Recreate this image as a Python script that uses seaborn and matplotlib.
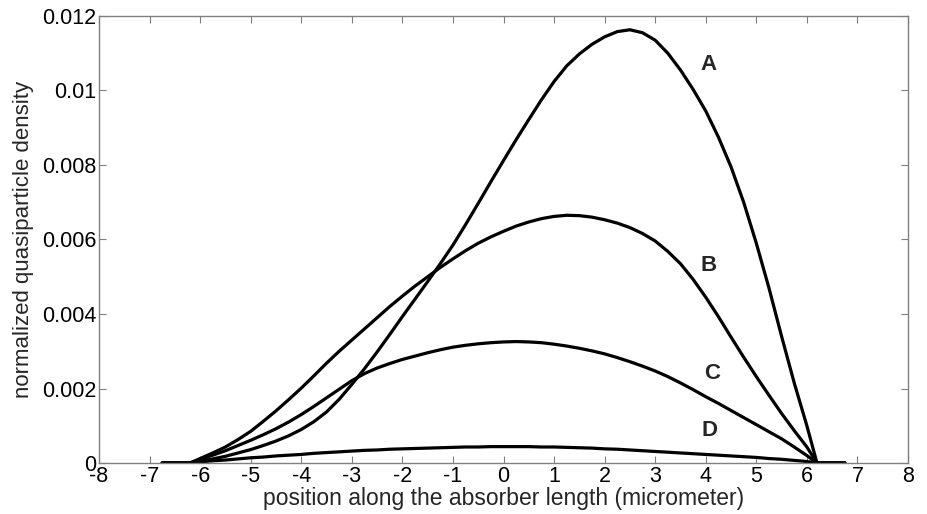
import numpy as np
import pandas as pd
import matplotlib
matplotlib.use("Agg")
import matplotlib.pyplot as plt
import seaborn as sns

# positions along absorber (micrometer)
x_pos = [-6.75, -6.2, -6.0, -5.75, -5.5, -5.25, -5.0, -4.75, -4.5, -4.25, -4.0,
         -3.75, -3.5, -3.25, -3.0, -2.75, -2.5, -2.25, -2.0, -1.75, -1.5, -1.25,
         -1.0, -0.75, -0.5, -0.25, 0.0, 0.25, 0.5, 0.75, 1.0, 1.25, 1.5, 1.75,
         2.0, 2.25, 2.5, 2.75, 3.0, 3.25, 3.5, 3.75, 4.0, 4.25, 4.5, 4.75, 5.0,
         5.25, 5.5, 5.75, 6.0, 6.2, 6.75]

curve_A = [0, 0, 0.00005, 0.00011, 0.00018, 0.00027, 0.00036, 0.00047, 0.00059, 0.00073,
           0.00090, 0.00111, 0.00137, 0.00171, 0.00211, 0.00253, 0.00298, 0.00345,
           0.00393, 0.00440, 0.00487, 0.00535, 0.00585, 0.00640, 0.00697, 0.00755,
           0.00812, 0.00868, 0.00922, 0.00975, 0.01024, 0.01066, 0.01098, 0.01124,
           0.01144, 0.01158, 0.01163, 0.01155, 0.01135, 0.01100, 0.01055, 0.01003,
           0.00945, 0.00875, 0.00795, 0.00700, 0.00590, 0.00470, 0.00340, 0.00215,
           0.00100, 0, 0]
curve_B = [0, 0, 0.00012, 0.00027, 0.00043, 0.00063, 0.00085, 0.00112, 0.00140, 0.00170,
           0.00201, 0.00234, 0.00268, 0.00300, 0.00330, 0.00360, 0.00390, 0.00420,
           0.00448, 0.00475, 0.00500, 0.00525, 0.00548, 0.00570, 0.00590, 0.00607,
           0.00622, 0.00636, 0.00647, 0.00656, 0.00662, 0.00665, 0.00664, 0.00660,
           0.00653, 0.00644, 0.00632, 0.00616, 0.00596, 0.00568, 0.00535, 0.00493,
           0.00445, 0.00393, 0.00338, 0.00284, 0.00232, 0.00182, 0.00133, 0.00087,
           0.00043, 0, 0]
curve_C = [0, 0, 0.00010, 0.00021, 0.00033, 0.00047, 0.00061, 0.00076, 0.00092, 0.00110,
           0.00130, 0.00152, 0.00175, 0.00198, 0.00221, 0.00240, 0.00255, 0.00267,
           0.00278, 0.00287, 0.00296, 0.00304, 0.00311, 0.00316, 0.00320, 0.00323,
           0.00325, 0.00326, 0.00325, 0.00323, 0.00319, 0.00314, 0.00308, 0.00301,
           0.00293, 0.00283, 0.00272, 0.00260, 0.00247, 0.00232, 0.00215, 0.00197,
           0.00178, 0.00160, 0.00141, 0.00122, 0.00103, 0.00084, 0.00065, 0.00043,
           0.00020, 0, 0]
curve_D = [0, 0, 0.00003, 0.00006, 0.00008, 0.00011, 0.00014, 0.00016, 0.00019, 0.00021,
           0.00023, 0.00026, 0.00028, 0.00030, 0.00032, 0.00034, 0.00035, 0.00037,
           0.00038, 0.00039, 0.00040, 0.00041, 0.00042, 0.00043, 0.00043, 0.00044,
           0.00044, 0.00044, 0.00044, 0.00043, 0.00043, 0.00042, 0.00041, 0.00040,
           0.00038, 0.00037, 0.00035, 0.00033, 0.00031, 0.00029, 0.00027, 0.00025,
           0.00023, 0.00021, 0.00019, 0.00017, 0.00015, 0.00012, 0.00010, 0.00007,
           0.00004, 0, 0]

curve_names = ["A", "B", "C", "D"]
label_x = [4.05, 4.05, 4.12, 4.08]
label_y = [0.0107, 0.0053, 0.0024, 0.00086]

x_ticks = list(range(-8, 9))
y_ticks = [0, 0.002, 0.004, 0.006, 0.008, 0.01, 0.012]
y_tick_labels = ["0", "0.002", "0.004", "0.006", "0.008", "0.01", "0.012"]

frames = []
for name, vals in zip(curve_names, [curve_A, curve_B, curve_C, curve_D]):
    frames.append(pd.DataFrame({"x": x_pos, "y": vals, "curve": name}))
df = pd.concat(frames, ignore_index=True)

sns.set_style("white")
plt.rcParams["font.family"] = ["Liberation Sans", "DejaVu Sans"]

fig = plt.figure(figsize=(9.27, 5.14), dpi=100)
ax = fig.add_axes([0.1068, 0.0992, 0.8727, 0.8697])

sns.lineplot(data=df, x="x", y="y", hue="curve", palette=["black"] * 4,
             linewidth=2.3, legend=False, ax=ax, sort=False, estimator=None)
for ln in ax.lines:
    ln.set_solid_joinstyle("round")

for n, lx, ly in zip(curve_names, label_x, label_y):
    ax.text(lx, ly, n, fontsize=16, fontweight="bold", ha="center", va="center")

ax.set_xlim(-8, 8)
ax.set_ylim(0, 0.012)
ax.set_xticks(x_ticks)
ax.set_xticklabels([str(t) for t in x_ticks])
ax.set_yticks(y_ticks)
ax.set_yticklabels(y_tick_labels)
ax.tick_params(direction="in", length=5, width=0.8, color="#808080",
               top=True, right=True, bottom=True, left=True,
               labelsize=15.5, labelcolor="black", pad=2)
for s in ax.spines.values():
    s.set_color("#808080")
    s.set_linewidth(1.0)
    s.set_visible(True)

ax.set_xlabel("position along the absorber length (micrometer)", fontsize=16.5, labelpad=0)
ax.set_ylabel("normalized quasiparticle density", fontsize=16, labelpad=6)

fig.savefig("out.png", dpi=100, facecolor="white")
